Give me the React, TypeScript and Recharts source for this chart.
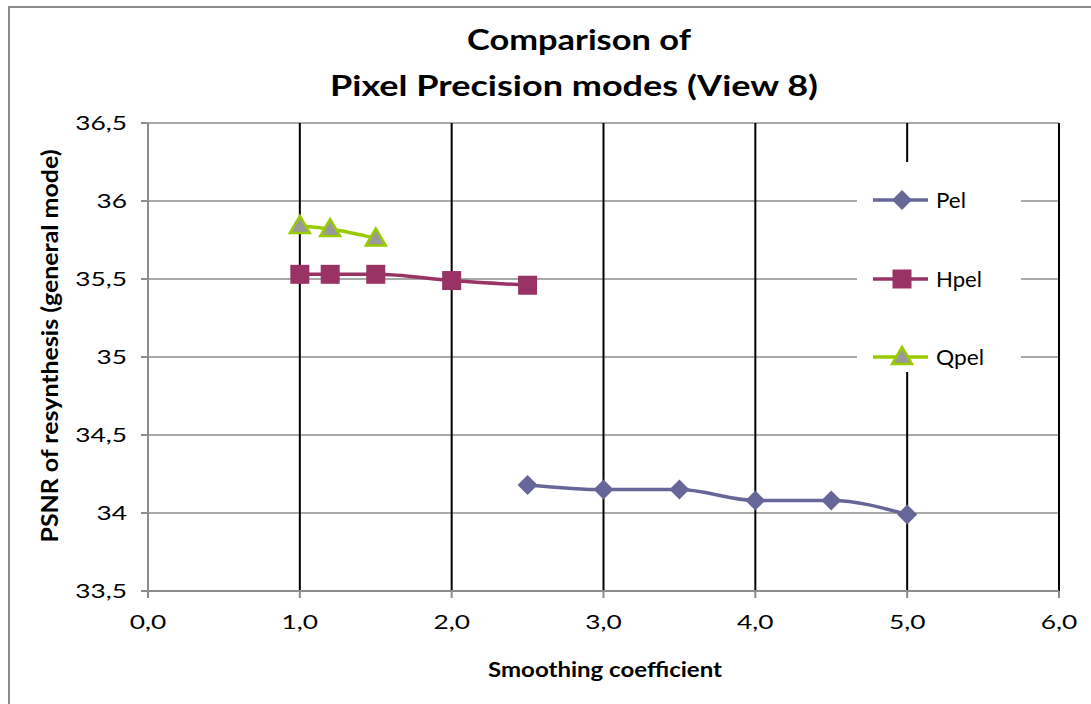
import React from "react";
import { LineChart, Line, XAxis, YAxis, CartesianGrid, ReferenceLine, Label } from "recharts";

const pelX = [2.5, 3.0, 3.5, 4.0, 4.5, 5.0];
const pelY = [34.18, 34.15, 34.15, 34.08, 34.08, 33.99];
const hpelX = [1.0, 1.2, 1.5, 2.0, 2.5];
const hpelY = [35.53, 35.53, 35.53, 35.49, 35.46];
const qpelX = [1.0, 1.2, 1.5];
const qpelY = [35.84, 35.82, 35.76];

const xTicks = [0, 1, 2, 3, 4, 5, 6];
const yTicks = [33.5, 34, 34.5, 35, 35.5, 36, 36.5];

const FONT = "Lato, 'Open Sans', sans-serif";
const GRAY = "#8c8c8c";
// text in this chart is drawn a bit wider than the font's natural width
const STRETCH = 1.35;

const toRows = (xs: number[], ys: number[]) => xs.map((x, i) => ({ x, y: ys[i] }));

const series = [
  { name: "Pel", data: toRows(pelX, pelY), color: "#666699", marker: "diamond", labelWidth: 30 },
  { name: "Hpel", data: toRows(hpelX, hpelY), color: "#993366", marker: "square", labelWidth: 46 },
  { name: "Qpel", data: toRows(qpelX, qpelY), color: "#99cc00", marker: "triangle", labelWidth: 48 },
];

function Marker({ kind, cx, cy, color }: { kind: string; cx: number; cy: number; color: string }) {
  if (kind === "diamond") {
    const r = 10;
    return <path d={`M${cx},${cy - r}L${cx + r},${cy}L${cx},${cy + r}L${cx - r},${cy}Z`} fill={color} />;
  }
  if (kind === "square") {
    const r = 9.5;
    return <rect x={cx - r} y={cy - r} width={r * 2} height={r * 2} fill={color} />;
  }
  const r = 10;
  return (
    <path
      d={`M${cx},${cy - r}L${cx + r},${cy + 7}L${cx - r},${cy + 7}Z`}
      fill="#999999"
      stroke={color}
      strokeWidth={2.5}
    />
  );
}

const legendRows = [200, 279, 357];

function LegendBox() {
  return (
    <svg width={164} height={210} style={{ position: "absolute", left: 857, top: 162 }}>
      <rect x={0} y={0} width={164} height={210} fill="#fff" />
      {series.map((s, i) => {
        const y = legendRows[i] - 162;
        return (
          <g key={s.name}>
            <line x1={16} y1={y} x2={71} y2={y} stroke={s.color} strokeWidth={3.5} />
            <Marker kind={s.marker} cx={45} cy={y} color={s.color} />
            <text
              x={79}
              y={y + 7.5}
              fontFamily={FONT}
              fontSize={21}
              fill="#000"
              textLength={s.labelWidth}
              lengthAdjust="spacingAndGlyphs"
            >
              {s.name}
            </text>
          </g>
        );
      })}
    </svg>
  );
}

const fmtX = (v: number) => v.toFixed(1).replace(".", ",");
const fmtY = (v: number) => String(v).replace(".", ",");

function XTick({ x, y, payload }: any) {
  return (
    <text
      transform={`translate(${x},${y + 25}) scale(${STRETCH},1)`}
      textAnchor="middle"
      fontFamily={FONT}
      fontSize={19.5}
      fill="#000"
    >
      {fmtX(payload.value)}
    </text>
  );
}

function YTick({ x, y, payload }: any) {
  return (
    <text
      transform={`translate(${x},${y + 7}) scale(${STRETCH},1)`}
      textAnchor="end"
      fontFamily={FONT}
      fontSize={19.5}
      fill="#000"
    >
      {fmtY(payload.value)}
    </text>
  );
}

export default function App() {
  return (
    <div style={{ position: "fixed", left: 0, top: 0, width: 1091, height: 704, overflow: "hidden", background: "#fff" }}>
      <div
        style={{
          position: "absolute",
          left: 8,
          top: 6,
          width: 1200,
          height: 800,
          borderLeft: `2px solid ${GRAY}`,
          borderTop: `2px solid ${GRAY}`,
        }}
      />
      <svg width={1091} height={120} style={{ position: "absolute", left: 0, top: 0 }}>
        <text x={579} y={50} textAnchor="middle" fontFamily={FONT} fontWeight={700} fontSize={28}
          textLength={224} lengthAdjust="spacingAndGlyphs">
          Comparison of
        </text>
        <text x={574} y={96} textAnchor="middle" fontFamily={FONT} fontWeight={700} fontSize={28}
          textLength={488} lengthAdjust="spacingAndGlyphs">
          Pixel Precision modes (View 8)
        </text>
      </svg>
      <div style={{ position: "absolute", left: 0, top: 0 }}>
        <LineChart width={1091} height={704} margin={{ top: 123, right: 32, bottom: 63, left: 88 }}>
          <CartesianGrid stroke={GRAY} strokeWidth={1.5} vertical={false} />
          {xTicks.slice(1).map((t) => (
            <ReferenceLine key={t} x={t} stroke="#000" strokeWidth={2} />
          ))}
          <XAxis
            type="number"
            dataKey="x"
            domain={[0, 6]}
            ticks={xTicks}
            stroke={GRAY}
            strokeWidth={2}
            tickSize={7}
            tickMargin={6}
            height={50}
            tick={<XTick />}
            allowDuplicatedCategory={false}
          >
            <Label
              content={() => (
                <text x={605} y={677} textAnchor="middle" fontFamily={FONT} fontWeight={700} fontSize={21}
                  fill="#000" textLength={234} lengthAdjust="spacingAndGlyphs">
                  Smoothing coefficient
                </text>
              )}
            />
          </XAxis>
          <YAxis
            type="number"
            domain={[33.5, 36.5]}
            ticks={yTicks}
            stroke={GRAY}
            strokeWidth={2}
            tickSize={7}
            tickMargin={14}
            width={60}
            tick={<YTick />}
          >
            <Label
              content={() => (
                <text
                  x={58}
                  y={346}
                  transform="rotate(-90 58 346)"
                  textAnchor="middle"
                  fontFamily={FONT}
                  fontWeight={700}
                  fontSize={23}
                  fill="#000"
                  textLength={393}
                  lengthAdjust="spacingAndGlyphs"
                >
                  PSNR of resynthesis (general mode)
                </text>
              )}
            />
          </YAxis>
          {series.map((s) => (
            <Line
              key={s.name}
              name={s.name}
              data={s.data}
              dataKey="y"
              type="monotone"
              stroke={s.color}
              strokeWidth={3.5}
              isAnimationActive={false}
              dot={(p: any) => <Marker key={`${s.name}-${p.index}`} kind={s.marker} cx={p.cx} cy={p.cy} color={s.color} />}
              activeDot={false}
            />
          ))}
        </LineChart>
      </div>
      <LegendBox />
    </div>
  );
}
